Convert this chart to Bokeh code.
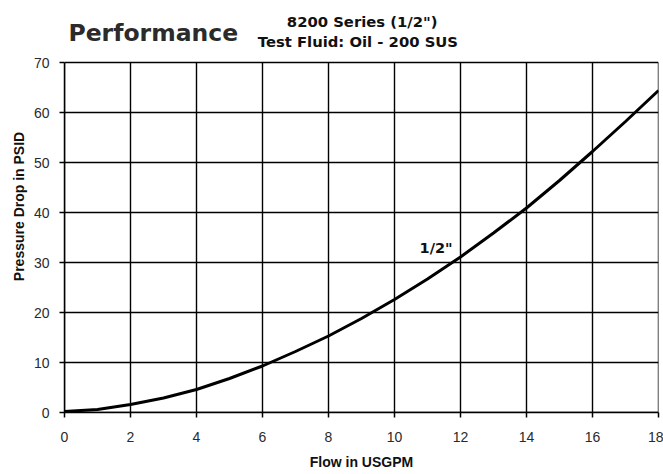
from bokeh.plotting import figure
from bokeh.models import Range1d, FixedTicker, Label
from bokeh.embed import file_html
from bokeh.resources import INLINE

# data
flow = [0, 1, 2, 3, 4, 5, 6, 7, 8, 9, 10, 11, 12, 13, 14, 15, 16, 17, 18]
pressure = [0.2, 0.6, 1.6, 2.9, 4.6, 6.8, 9.3, 12.2, 15.3, 18.8, 22.6, 26.7,
            31.1, 35.9, 40.9, 46.4, 52.2, 58.2, 64.4]
x_ticks = [0, 2, 4, 6, 8, 10, 12, 14, 16, 18]
y_ticks = [0, 10, 20, 30, 40, 50, 60, 70]
title_text = "Performance"
subtitle_1 = "8200 Series (1/2\")"
subtitle_2 = "Test Fluid: Oil - 200 SUS"
series_label = "1/2\""
x_label = "Flow in USGPM"
y_label = "Pressure Drop in PSID"

FONT = "Liberation Sans"
HEAD_FONT = "DejaVu Sans"
Y_TOP = 82.4  # room above the grid for the header texts

p = figure(width=663, height=474, output_backend="svg", toolbar_location=None,
           x_range=Range1d(x_ticks[0], x_ticks[-1]),
           y_range=Range1d(y_ticks[0], Y_TOP),
           min_border_left=64, min_border_right=5, min_border_top=0,
           min_border_bottom=62)
p.background_fill_color = "white"
p.border_fill_color = "white"
p.outline_line_color = None
p.grid.visible = False

for ax in (p.xaxis[0], p.yaxis[0]):
    ax.axis_line_color = "black"
    ax.axis_line_width = 1.5
    ax.major_tick_line_color = "black"
    ax.major_tick_line_width = 1.5
    ax.major_tick_out = 5
    ax.major_tick_in = 0
    ax.minor_tick_line_color = None
    ax.major_label_text_font = FONT
    ax.major_label_text_font_size = "14px"
    ax.major_label_text_color = "#2a2a2a"
    ax.axis_label_text_font = FONT
    ax.axis_label_text_font_size = "14px"
    ax.axis_label_text_font_style = "bold"
    ax.axis_label_text_color = "#111111"

p.xaxis.ticker = FixedTicker(ticks=x_ticks)
p.yaxis.ticker = FixedTicker(ticks=y_ticks)
p.yaxis.bounds = (y_ticks[0], y_ticks[-1])
p.xaxis.axis_label = x_label
p.yaxis.axis_label = y_label
p.xaxis.major_label_standoff = 14
p.xaxis.axis_label_standoff = 9
p.yaxis.major_label_standoff = 10
p.yaxis.axis_label_standoff = 4

# grid lines drawn from the tick lists
p.segment(x0=x_ticks, y0=[y_ticks[0]] * len(x_ticks),
          x1=x_ticks, y1=[y_ticks[-1]] * len(x_ticks),
          line_color="black", line_width=1.4)
p.segment(x0=[x_ticks[0]] * len(y_ticks), y0=y_ticks,
          x1=[x_ticks[-1]] * len(y_ticks), y1=y_ticks,
          line_color="black", line_width=1.4)

p.line(flow, pressure, line_color="black", line_width=3)

p.add_layout(Label(x=11.26, y=32.9, text=series_label, text_font=HEAD_FONT,
                   text_font_size="14.5px", text_font_style="bold",
                   text_align="center", text_baseline="middle",
                   text_color="#111111"))

p.add_layout(Label(x=0.12, y=76.0, text=title_text, text_font=HEAD_FONT,
                   text_font_size="23.5px", text_font_style="bold",
                   text_align="left", text_baseline="alphabetic",
                   text_color="#2b2b2b"))
p.add_layout(Label(x=9.02, y=78.2, text=subtitle_1, text_font=HEAD_FONT,
                   text_font_size="14.8px", text_font_style="bold",
                   text_align="center", text_baseline="alphabetic",
                   text_color="#111111"))
p.add_layout(Label(x=8.89, y=74.25, text=subtitle_2, text_font=HEAD_FONT,
                   text_font_size="14.8px", text_font_style="bold",
                   text_align="center", text_baseline="alphabetic",
                   text_color="#111111"))

open("out.html", "w").write(file_html(p, INLINE))
